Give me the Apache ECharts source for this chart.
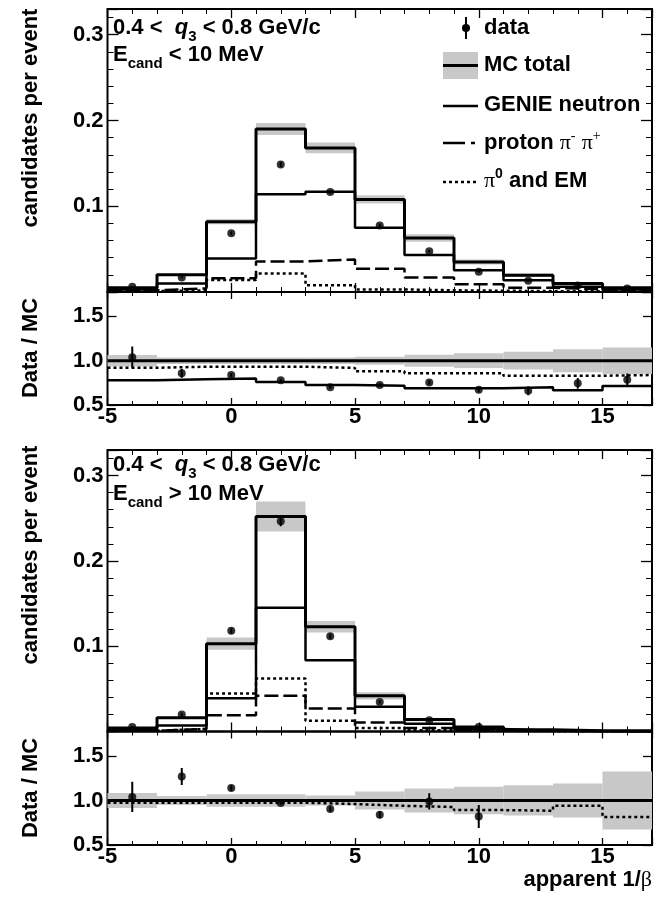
<!DOCTYPE html>
<html><head><meta charset="utf-8">
<script src="https://cdn.jsdelivr.net/npm/echarts@6/dist/echarts.min.js"></script>
<style>html,body{margin:0;padding:0;background:#fff}#c{width:661px;height:898px}</style>
</head><body><div id="c"></div>
<script>
// ---------- data ----------
const binEdges = [-5, -3, -1, 1, 3, 5, 7, 9, 11, 13, 15, 17];
const binCenters = [-4, -2, 0, 2, 4, 6, 8, 10, 12, 14, 16];
const xTickLabels = ['-5', '0', '5', '10', '15'];

// E_cand < 10 MeV
const mcTotalLow = [0.005, 0.020, 0.082, 0.190, 0.168, 0.108, 0.063, 0.035, 0.0196, 0.010, 0.005];
const genieLow   = [0.003, 0.010, 0.039, 0.114, 0.117, 0.075, 0.043, 0.0255, 0.0137, 0.006, 0.003];
const protonLow  = [0.002, 0.0043, 0.016, 0.0357, 0.038, 0.027, 0.017, 0.009, 0.005, 0.003, 0.002];
const pi0Low     = [0.001, 0.002, 0.014, 0.0216, 0.008, 0.003, 0.002, 0.0015, 0.001, 0.0008, 0.0005];
const dataLow    = [0.006, 0.017, 0.0686, 0.1486, 0.1165, 0.0776, 0.0475, 0.0235, 0.013, 0.0075, 0.004];
const dataErrLow = [0.001, 0.001, 0.002, 0.003, 0.002, 0.002, 0.0015, 0.001, 0.001, 0.001, 0.001];
const bandRelLow = [0.065, 0.037, 0.037, 0.037, 0.037, 0.045, 0.068, 0.083, 0.10, 0.13, 0.15];
const ratioDataLow = [1.04, 0.857, 0.838, 0.78, 0.70, 0.725, 0.755, 0.673, 0.66, 0.744, 0.785];
const ratioErrLow  = [0.12, 0.05, 0.02, 0.015, 0.015, 0.02, 0.025, 0.03, 0.05, 0.06, 0.07];
const ratioAltLow  = [0.78, 0.79, 0.80, 0.76, 0.725, 0.718, 0.69, 0.69, 0.70, 0.667, 0.715];
const ratioDotLow  = [0.92, 0.932, 0.932, 0.932, 0.918, 0.88, 0.857, 0.857, 0.83, 0.83, 0.838];
const unityLine    = [1, 1, 1, 1, 1, 1, 1, 1, 1, 1, 1];

// E_cand > 10 MeV
const mcTotalHigh = [0.004, 0.016, 0.103, 0.252, 0.1227, 0.0418, 0.014, 0.0054, 0.002, 0.001, 0.001];
const genieHigh   = [0.002, 0.007, 0.039, 0.145, 0.0836, 0.029, 0.009, 0.003, 0.001, 0.0005, 0.0003];
const protonHigh  = [0.001, 0.003, 0.019, 0.0418, 0.027, 0.0105, 0.004, 0.0015, 0.0008, 0.0004, 0.0002];
const pi0High     = [0.001, 0.003, 0.0445, 0.062, 0.0125, 0.004, 0.0015, 0.0008, 0.0004, 0.0002, 0.0001];
const dataHigh    = [0.0054, 0.020, 0.118, 0.2466, 0.1117, 0.0347, 0.0133, 0.0054];
const dataErrHigh = [0.001, 0.002, 0.003, 0.006, 0.003, 0.002, 0.0013, 0.001];
const bandRelHigh = [0.083, 0.05, 0.07, 0.07, 0.055, 0.1, 0.135, 0.154, 0.17, 0.19, 0.325];
const ratioDataHigh = [1.04, 1.27, 1.14, 0.973, 0.904, 0.84, 0.99, 0.82];
const ratioErrHigh  = [0.17, 0.095, 0.03, 0.02, 0.03, 0.04, 0.09, 0.13];
const ratioDotHigh  = [0.975, 0.975, 0.975, 0.975, 0.96, 0.94, 0.927, 0.892, 0.885, 0.94, 0.815];

// ---------- helpers ----------
const F = "'Liberation Sans', Arial, Helvetica, sans-serif";
const SERIF = "'Liberation Serif', 'DejaVu Serif', serif";
const BAND = '#c8c8c8';

function stepData(vals) {
  const d = vals.map((v, i) => [binEdges[i], v]);
  d.push([binEdges[vals.length], vals[vals.length - 1]]);
  return d;
}
function stepSeries(g, vals, width, type, z) {
  return { type: 'line', xAxisIndex: 4 * g, yAxisIndex: 4 * g, step: 'end', data: stepData(vals),
    symbol: 'none', silent: true, z: z || 3,
    lineStyle: { color: '#000', width: width, type: type || 'solid' } };
}
function bandSeries(g, center, rel) {
  return { type: 'custom', xAxisIndex: 4 * g, yAxisIndex: 4 * g, silent: true, z: 1, clip: true,
    data: center.map((v, i) => [binEdges[i], binEdges[i + 1], v - v * rel[i], v + v * rel[i]]),
    encode: { x: [0, 1], y: [2, 3] },
    renderItem: function (params, api) {
      const p1 = api.coord([api.value(0), api.value(3)]);
      const p2 = api.coord([api.value(1), api.value(2)]);
      return { type: 'rect', shape: { x: p1[0], y: p1[1], width: p2[0] - p1[0], height: p2[1] - p1[1] },
        style: { fill: BAND } };
    } };
}
function errSeries(g, vals, errs) {
  return { type: 'custom', xAxisIndex: 4 * g, yAxisIndex: 4 * g, silent: true, z: 5, clip: true,
    data: vals.map((v, i) => [binCenters[i], v - errs[i], v + errs[i]]),
    encode: { x: 0, y: [1, 2] },
    renderItem: function (params, api) {
      const a = api.coord([api.value(0), api.value(1)]);
      const b = api.coord([api.value(0), api.value(2)]);
      return { type: 'line', shape: { x1: a[0], y1: a[1], x2: b[0], y2: b[1] },
        style: { stroke: '#000', lineWidth: 2 } };
    } };
}
function pointSeries(g, vals) {
  return { type: 'scatter', xAxisIndex: 4 * g, yAxisIndex: 4 * g, silent: true, z: 6,
    data: vals.map((v, i) => [binCenters[i], v]), symbol: 'circle', symbolSize: 8,
    itemStyle: { color: '#000' } };
}

const labelStyle = { fontFamily: F, fontWeight: 'bold', fontSize: 22, color: '#000' };
const grids = [
  { left: 107.5, width: 544.5, top: 9, height: 283 },
  { left: 107.5, width: 544.5, top: 292, height: 113 },
  { left: 107.5, width: 544.5, top: 450, height: 281.5 },
  { left: 107.5, width: 544.5, top: 731.5, height: 113.5 }
];
const isRatio = [false, true, false, true];

const xAxes = [], yAxes = [];
grids.forEach((gr, g) => {
  const r = isRatio[g];
  const majLen = r ? 7 : 9, minLen = r ? 4 : 5;
  ['bottom', 'top'].forEach(pos => {
    xAxes.push({ type: 'value', gridIndex: g, position: pos, min: -5, max: 17, interval: 5,
      axisLine: { show: false, onZero: false }, splitLine: { show: false },
      axisTick: { show: true, inside: true, length: majLen, lineStyle: { color: '#000', width: 1.3 } },
      axisLabel: Object.assign({ show: r && pos === 'bottom', margin: 1,
        formatter: v => { const s = String(Math.round(v)); return (Math.abs(v - Math.round(v)) < 1e-9 && xTickLabels.indexOf(s) >= 0) ? s : ''; } }, labelStyle) });
    xAxes.push({ type: 'value', gridIndex: g, position: pos, min: -5, max: 17, interval: 1,
      axisLine: { show: false, onZero: false }, splitLine: { show: false },
      axisTick: { show: true, inside: true, length: minLen, lineStyle: { color: '#000', width: 1 } },
      axisLabel: { show: false } });
  });
  ['left', 'right'].forEach(pos => {
    if (r) {
      yAxes.push({ type: 'value', gridIndex: g, position: pos, min: 0.5, max: 1.775, interval: 0.5,
        axisLine: { show: false, onZero: false }, splitLine: { show: false },
        axisTick: { show: true, inside: true, length: 9, lineStyle: { color: '#000', width: 1.3 } },
        axisLabel: Object.assign({ show: pos === 'left', margin: 4,
          formatter: v => (Math.abs(v * 2 - Math.round(v * 2)) < 1e-9 ? v.toFixed(1) : '') }, labelStyle) });
      yAxes.push({ type: 'value', gridIndex: g, position: pos, min: 0.5, max: 1.775, interval: 0.5,
        axisLine: { show: false, onZero: false }, splitLine: { show: false },
        axisTick: { show: false }, axisLabel: { show: false } });
    } else {
      yAxes.push({ type: 'value', gridIndex: g, position: pos, min: 0, max: 0.33, interval: 0.1,
        axisLine: { show: false, onZero: false }, splitLine: { show: false },
        axisTick: { show: true, inside: true, length: 11, lineStyle: { color: '#000', width: 1.3 } },
        axisLabel: Object.assign({ show: pos === 'left', margin: 4,
          formatter: v => { const q = Math.round(v * 10) / 10; return (Math.abs(v - q) < 1e-9 && q > 0) ? q.toFixed(1) : ''; } }, labelStyle) });
      yAxes.push({ type: 'value', gridIndex: g, position: pos, min: 0, max: 0.33, interval: 0.02,
        axisLine: { show: false, onZero: false }, splitLine: { show: false },
        axisTick: { show: true, inside: true, length: 6, lineStyle: { color: '#000', width: 1 } },
        axisLabel: { show: false } });
    }
  });
});

const series = [
  // panel 0: main, E < 10 MeV
  bandSeries(0, mcTotalLow, bandRelLow),
  stepSeries(0, pi0Low, 2.5, [3, 3], 2),
  stepSeries(0, protonLow, 2.5, [14, 5], 2),
  stepSeries(0, genieLow, 2.5, 'solid', 3),
  stepSeries(0, mcTotalLow, 3, 'solid', 4),
  errSeries(0, dataLow, dataErrLow),
  pointSeries(0, dataLow),
  // panel 1: ratio
  bandSeries(1, unityLine, bandRelLow),
  stepSeries(1, ratioDotLow, 2.5, [3, 3], 2),
  stepSeries(1, ratioAltLow, 2.5, 'solid', 3),
  stepSeries(1, unityLine, 3, 'solid', 4),
  errSeries(1, ratioDataLow, ratioErrLow),
  pointSeries(1, ratioDataLow),
  // panel 2: main, E > 10 MeV
  bandSeries(2, mcTotalHigh, bandRelHigh),
  stepSeries(2, pi0High, 2.5, [3, 3], 2),
  stepSeries(2, protonHigh, 2.5, [14, 5], 2),
  stepSeries(2, genieHigh, 2.5, 'solid', 3),
  stepSeries(2, mcTotalHigh, 3, 'solid', 4),
  errSeries(2, dataHigh, dataErrHigh),
  pointSeries(2, dataHigh),
  // panel 3: ratio
  bandSeries(3, unityLine, bandRelHigh),
  stepSeries(3, ratioDotHigh, 2.5, [3, 3], 2),
  stepSeries(3, unityLine, 3, 'solid', 4),
  errSeries(3, ratioDataHigh, ratioErrHigh),
  pointSeries(3, ratioDataHigh)
];

// ---------- text graphics ----------
const B22 = { fontFamily: F, fontWeight: 'bold', fontSize: 22, fill: '#000' };
const rich = {
  n: Object.assign({}, B22),
  qi: { fontFamily: F, fontWeight: 'bold', fontStyle: 'italic', fontSize: 22, fill: '#000' },
  sub: { fontFamily: F, fontWeight: 'bold', fontSize: 15, fill: '#000', padding: [18, 0, 0, 0] },
  sup: { fontFamily: F, fontWeight: 'bold', fontSize: 14, fill: '#000', padding: [0, 0, 14, 0] },
  g: { fontFamily: SERIF, fontWeight: 'normal', fontSize: 22, fill: '#000' },
  gsup: { fontFamily: SERIF, fontWeight: 'normal', fontSize: 14, fill: '#000', padding: [0, 0, 14, 0] }
};
function txt(x, y, text, opts) {
  return Object.assign({ type: 'text', x: x, y: y, silent: true, z: 100,
    style: { text: text, rich: rich, fontFamily: F, fontWeight: 'bold', fontSize: 22, fill: '#000',
      align: (opts && opts.align) || 'left', verticalAlign: 'middle' } },
    (opts && opts.rotation) ? { rotation: opts.rotation } : {});
}
const lx1 = 443, lx2 = 478, ltx = 484;
const graphic = [
  txt(31, 118, 'candidates per event', { align: 'center', rotation: Math.PI / 2 }),
  txt(31, 348, 'Data / MC', { align: 'center', rotation: Math.PI / 2 }),
  txt(31, 555, 'candidates per event', { align: 'center', rotation: Math.PI / 2 }),
  txt(31, 788, 'Data / MC', { align: 'center', rotation: Math.PI / 2 }),
  txt(113, 28, '{n|0.4 <  }{qi|q}{sub|3}{n| < 0.8 GeV/c}'),
  txt(113, 55, '{n|E}{sub|cand}{n| < 10 MeV}'),
  txt(113, 465, '{n|0.4 <  }{qi|q}{sub|3}{n| < 0.8 GeV/c}'),
  txt(113, 494, '{n|E}{sub|cand}{n| > 10 MeV}'),
  txt(652, 880, '{n|apparent 1/}{g|β}', { align: 'right' }),
  // legend
  { type: 'line', z: 100, silent: true, shape: { x1: 466, y1: 17, x2: 466, y2: 39 }, style: { stroke: '#000', lineWidth: 2 } },
  { type: 'circle', z: 101, silent: true, shape: { cx: 466, cy: 28, r: 4 }, style: { fill: '#000' } },
  txt(ltx, 28, 'data'),
  { type: 'rect', z: 99, silent: true, shape: { x: lx1, y: 52, width: lx2 - lx1, height: 27 }, style: { fill: BAND } },
  { type: 'line', z: 100, silent: true, shape: { x1: lx1, y1: 65.5, x2: lx2, y2: 65.5 }, style: { stroke: '#000', lineWidth: 3 } },
  txt(ltx, 65, 'MC total'),
  { type: 'line', z: 100, silent: true, shape: { x1: lx1, y1: 106, x2: lx2, y2: 106 }, style: { stroke: '#000', lineWidth: 2.5 } },
  txt(ltx, 105, 'GENIE neutron'),
  { type: 'line', z: 100, silent: true, shape: { x1: lx1, y1: 143, x2: lx2, y2: 143 }, style: { stroke: '#000', lineWidth: 2.5, lineDash: [22, 6, 4, 10] } },
  txt(ltx, 143, '{n|proton }{g|π}{gsup|-}{n| }{g|π}{gsup|+}'),
  { type: 'line', z: 100, silent: true, shape: { x1: lx1, y1: 182, x2: lx2, y2: 182 }, style: { stroke: '#000', lineWidth: 2.5, lineDash: [3, 3] } },
  txt(ltx, 181, '{g|π}{sup|0}{n| and EM}')
];

const chart = echarts.init(document.getElementById('c'), null, { renderer: 'canvas' });
chart.setOption({
  animation: false,
  backgroundColor: '#fff',
  grid: grids.map(g => Object.assign({ show: true, borderColor: '#000', borderWidth: 2, backgroundColor: 'transparent', containLabel: false }, g)),
  xAxis: xAxes,
  yAxis: yAxes,
  series: series,
  graphic: graphic
});
</script>
</body></html>
